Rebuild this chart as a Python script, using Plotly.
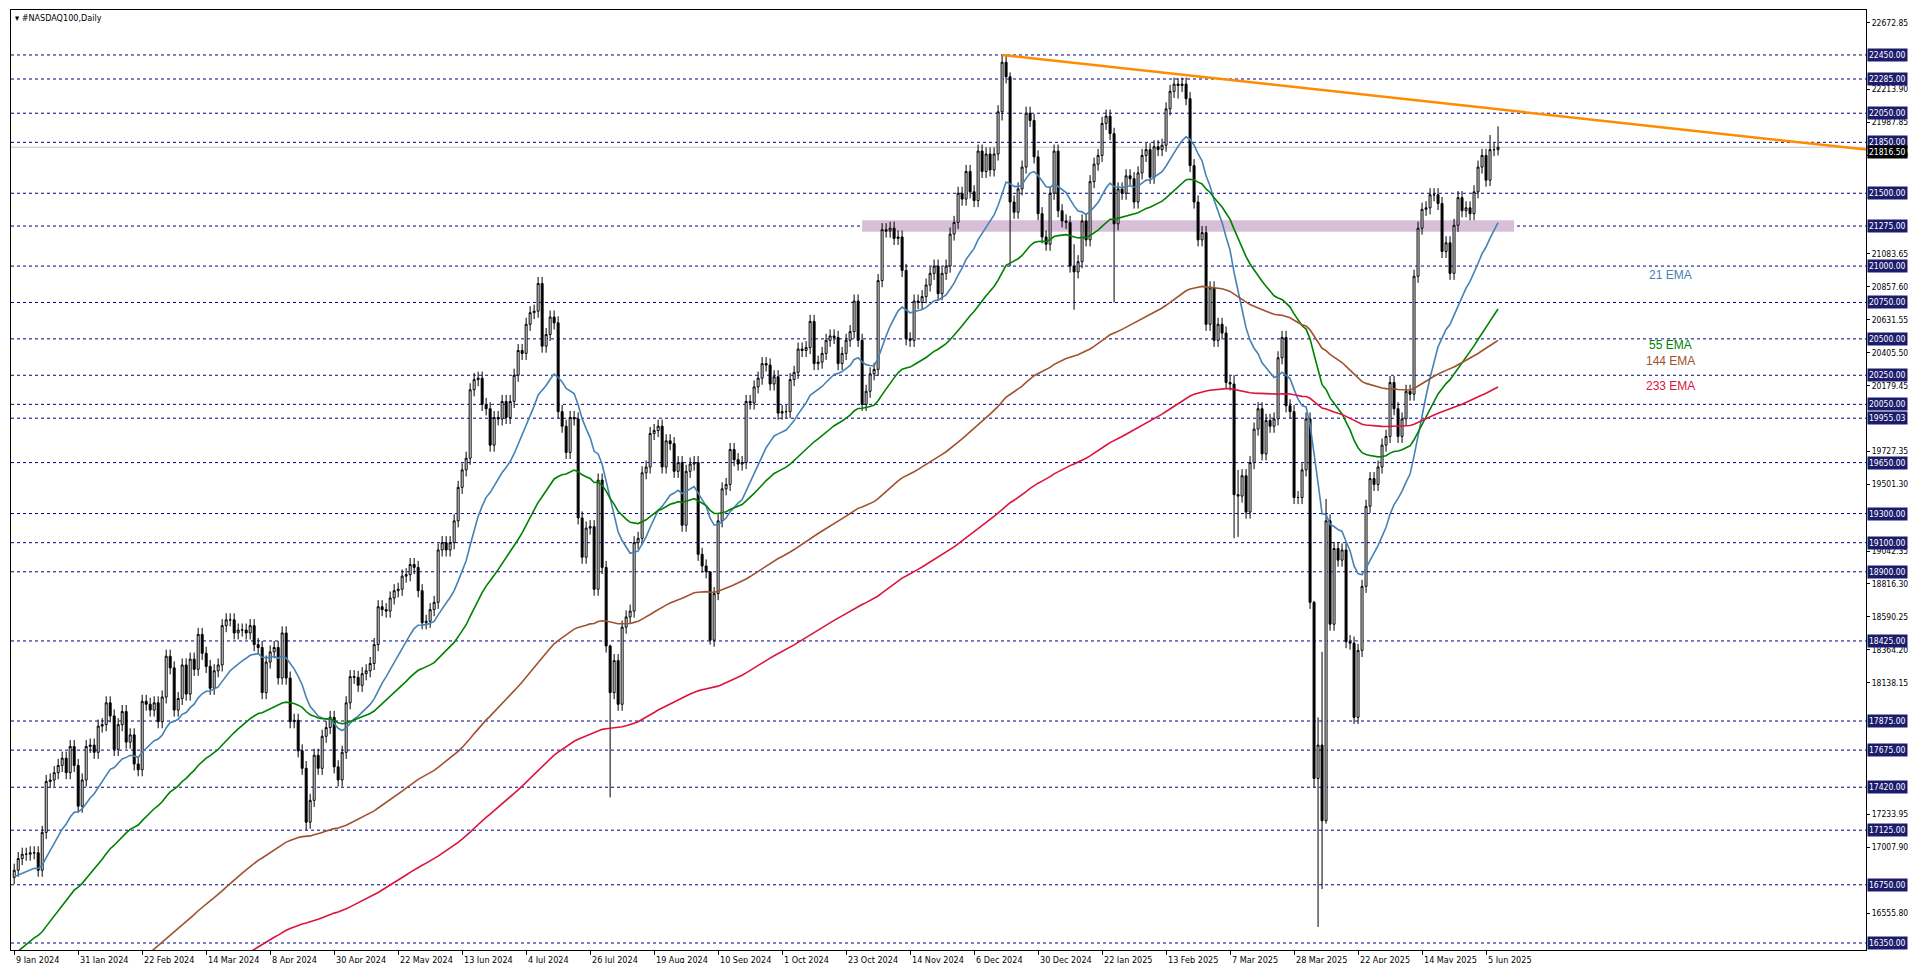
import plotly.graph_objects as go

# ---------------- data ----------------
closes = [
16850,16930,16960,16960,16970,16970,16850,17110,17460,17470,17520,17570,17620,17520,17700,17570,17290,17470,17700,17710,
17660,17840,17850,18000,17910,17680,17850,17940,17730,17780,17580,17540,18010,17990,17950,18000,17870,18040,18320,18240,
17950,18030,18260,18060,18300,18230,18470,18340,18250,18100,18220,18260,18530,18570,18570,18480,18500,18500,18480,18530,
18400,18380,18070,18280,18350,18380,18170,18480,18170,17870,17880,17670,17550,17180,17330,17640,17550,17770,17830,17900,
17560,17470,17660,18000,18180,18175,18120,18200,18220,18270,18400,18660,18640,18630,18720,18770,18780,18870,18880,18950,
18930,18770,18550,18560,18640,18690,19050,19100,19050,19100,19250,19480,19600,19680,20150,20220,20230,20050,20020,19770,
19960,19950,20070,19960,20070,20250,20420,20400,20600,20680,20690,20880,20450,20530,20650,20610,20000,19900,19720,19960,
19950,19270,19000,19200,19210,18780,19530,18930,18390,18070,18290,17990,18520,18590,18630,19100,19130,19580,19620,19850,
19870,19900,19620,19800,19780,19590,19650,19220,19590,19640,19650,19020,18940,18900,18430,18750,19250,19470,19500,19740,
19670,19640,19650,20070,20060,20170,20230,20330,20320,20190,20240,19990,20000,20000,20220,20270,20430,20420,20440,20620,
20330,20340,20400,20490,20520,20510,20330,20400,20490,20550,20760,20490,20050,20140,20260,20290,20900,21250,21240,21260,
21190,21200,20970,20500,20490,20760,20750,20790,20870,20950,21000,20810,20950,21000,21220,21300,21500,21460,21650,21510,
21450,21790,21650,21770,21660,21770,22060,22400,22300,21440,21370,21530,21680,22050,22000,21750,21360,21200,21150,21500,
21790,21380,21310,21300,21000,20960,21030,21310,21180,21580,21700,21760,21980,22030,21910,21290,21530,21500,21620,21600,
21440,21640,21760,21800,21610,21820,21800,21830,22080,22200,22250,22240,22250,22150,21690,21440,21180,21230,20600,20850,
20490,20600,20540,20200,20190,19430,19420,19560,19310,19650,19880,20020,19710,19940,19900,19950,20370,20510,20040,20000,
19410,19410,19600,19950,18690,17480,17710,17190,19250,18540,19060,18980,19050,18420,18410,17900,18360,18800,19350,19540,
19500,19620,19770,19830,20200,20020,19830,19950,20140,20120,20930,21260,21390,21400,21490,21490,21430,21100,21160,20950,
21280,21470,21380,21400,21360,21510,21680,21760,21590,21800,21800,21816.5]
first_open = 16800
wick_overrides = {  # bar: (high, low)
    73: (17600, 17125), 149: (18400, 17350), 174: (18800, 18400), 247: (22450, 22000),
    249: (22330, 21000), 265: (21150, 20700), 275: (21950, 20750), 291: (22290, 22150),
    305: (20250, 19130), 306: (19600, 19140), 325: (18700, 17420), 326: (17900, 16460),
    327: (18350, 16720), 328: (19400, 17170), 369: (21900, 21550), 371: (21960, 21760)}

ema_specs = [(21, 16800, "#4682B4"), (55, 16250, "#008000"), (144, 15480, "#A0522D"), (233, 15195, "#DC143C")]
ema_names = ["21 EMA", "55 EMA", "144 EMA", "233 EMA"]
ema_label_pos = [(414, 20939), (414, 20458), (414, 20348), (414, 20176)]

levels = [22450, 22285, 22050, 21850, 21500, 21275, 21000, 20750, 20500, 20250, 20050, 19955.03,
          19650, 19300, 19100, 18900, 18425, 17875, 17675, 17420, 17125, 16750, 16350]
axis_ticks = [22672.85, 22213.90, 21987.85, 21761.80, 21083.65, 20857.60, 20631.55, 20405.50, 20179.45,
              19727.35, 19501.30, 19042.35, 18816.30, 18590.25, 18364.20, 18138.15, 17233.95, 17007.90, 16555.80]
date_labels = ["9 Jan 2024", "31 Jan 2024", "22 Feb 2024", "14 Mar 2024", "8 Apr 2024", "30 Apr 2024",
               "22 May 2024", "13 Jun 2024", "4 Jul 2024", "26 Jul 2024", "19 Aug 2024", "10 Sep 2024",
               "1 Oct 2024", "23 Oct 2024", "14 Nov 2024", "6 Dec 2024", "30 Dec 2024", "22 Jan 2025",
               "13 Feb 2025", "7 Mar 2025", "28 Mar 2025", "22 Apr 2025", "14 May 2025", "5 Jun 2025"]
bars_per_label = 16
trend_idx = [247, 463]
trend_px = [22450, 21800]
zone_idx = [212, 375]
zone_px = [21235, 21315]
current_price = 21816.5

# ---------------- build ----------------
n = len(closes)
idx = list(range(n))
opens = [first_open] + closes[:-1]
pad = 45
highs, lows = [], []
for i in idx:
    o, c = opens[i], closes[i]
    h, l = max(o, c) + pad, min(o, c) - pad
    if i in wick_overrides:
        h, l = wick_overrides[i]
        h = max(h, o, c); l = min(l, o, c)
    highs.append(h); lows.append(l)

FONT = "DejaVu Sans Condensed"
FS = 8.5
fig = go.Figure()

shapes = []
for lv in levels:
    shapes.append(dict(type="line", xref="paper", x0=0, x1=1, yref="y", y0=lv, y1=lv,
                       line=dict(color="#000080", width=1, dash="3px,3px"), layer="below"))
shapes.append(dict(type="line", xref="paper", x0=0, x1=1, yref="y", y0=current_price, y1=current_price,
                   line=dict(color="#c0c0c0", width=1), layer="below"))
shapes.append(dict(type="rect", x0=zone_idx[0], x1=zone_idx[1], y0=zone_px[0], y1=zone_px[1],
                   fillcolor="#d8bfd8", line=dict(width=0), layer="below"))

for (period, seed, color), name in zip(ema_specs, ema_names):
    a = 2.0 / (period + 1)
    e = seed; vals = []
    for c in closes:
        e = e + a * (c - e)
        vals.append(e)
    fig.add_trace(go.Scatter(x=idx, y=vals, mode="lines", line=dict(color=color, width=1.6),
                             hoverinfo="skip", name=name))

fig.add_trace(go.Candlestick(x=idx, open=opens, high=highs, low=lows, close=closes,
                             increasing=dict(line=dict(color="black", width=1), fillcolor="white"),
                             decreasing=dict(line=dict(color="black", width=1), fillcolor="black"),
                             whiskerwidth=0))
fig.add_trace(go.Scatter(x=trend_idx, y=trend_px, mode="lines", line=dict(color="#FF8C00", width=2.5),
                         hoverinfo="skip"))

ann = []
for (period, seed, color), name, (px, py) in zip(ema_specs, ema_names, ema_label_pos):
    ann.append(dict(x=px, y=py, text=name, showarrow=False, font=dict(color=color, size=12,
                    family="Liberation Sans"), xanchor="center", yanchor="middle"))
for lv in levels:
    ann.append(dict(xref="paper", x=1, y=lv, text=f"{lv:.2f}", showarrow=False, xanchor="left",
                    yanchor="middle", xshift=1, bgcolor="#1c1c6c", borderpad=1,
                    font=dict(color="white", size=FS, family=FONT)))
ann.append(dict(xref="paper", x=1, y=current_price, text=f"{current_price:.2f}", showarrow=False,
                xanchor="left", yanchor="top", xshift=1, yshift=2, bgcolor="black", borderpad=1,
                font=dict(color="white", size=FS, family=FONT)))
for k, lab in enumerate(date_labels):
    ann.append(dict(x=k * bars_per_label, yref="paper", y=0, text=lab, showarrow=False, xanchor="left",
                    yanchor="top", yshift=-3, font=dict(color="black", size=9, family=FONT)))
ann.append(dict(xref="paper", yref="paper", x=0, y=1, text="▾ #NASDAQ100,Daily", showarrow=False,
                xanchor="left", yanchor="top", xshift=2, yshift=-1,
                font=dict(color="black", size=9, family=FONT)))

fig.update_layout(
    width=1916, height=963, margin=dict(l=3, r=58, t=2, b=21),
    paper_bgcolor="white", plot_bgcolor="white", showlegend=False,
    shapes=shapes, annotations=ann,
    xaxis=dict(range=[-0.8, 463], showgrid=False, zeroline=False, rangeslider=dict(visible=False),
               tickvals=[k * bars_per_label for k in range(len(date_labels))], showticklabels=False,
               ticks="outside", ticklen=4, tickcolor="black",
               showline=True, linecolor="black", linewidth=1, mirror=True),
    yaxis=dict(range=[16302, 22759], side="right", showgrid=False, zeroline=False,
               tickvals=axis_ticks, ticktext=[f"{t:.2f}" for t in axis_ticks],
               ticks="outside", ticklen=3, tickcolor="black",
               tickfont=dict(size=FS, family=FONT, color="black"),
               showline=True, linecolor="black", linewidth=1, mirror=True),
)
fig.write_html("out.html")
